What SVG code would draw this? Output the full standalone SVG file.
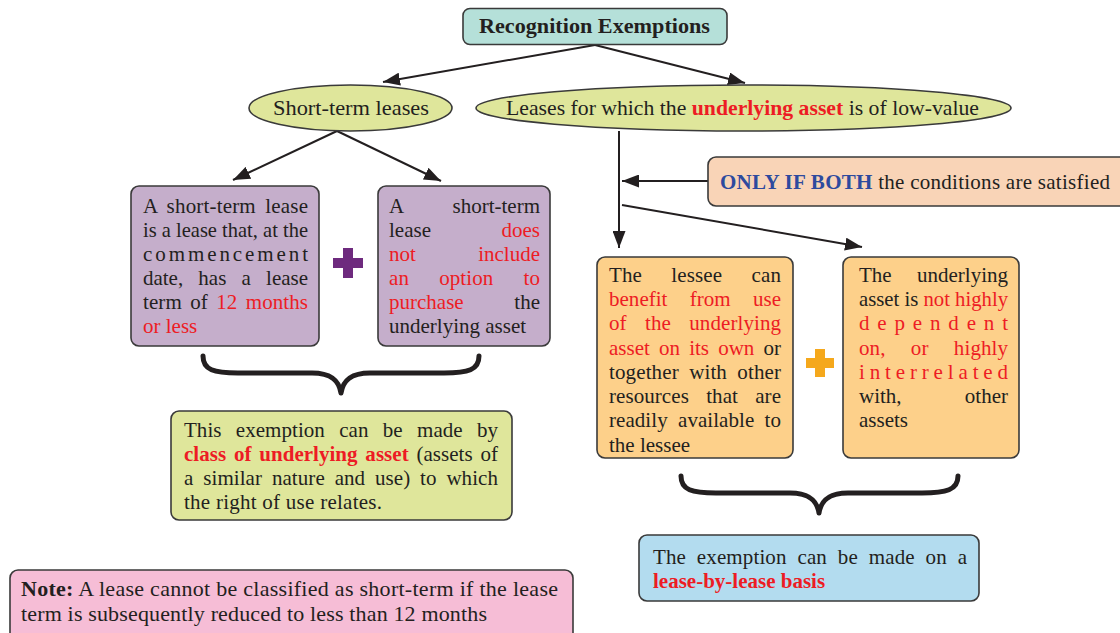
<svg xmlns="http://www.w3.org/2000/svg" width="1120" height="633" viewBox="0 0 1120 633">
<defs>
<style>
.box{stroke:#3a3a3a;stroke-width:1.6}
.t{font-family:"Liberation Serif",serif;font-size:21px;fill:#231f20}
.big{font-size:22px}
.r{fill:#ed1c24}
.bl{fill:#2e4a9e}
.b{font-weight:bold}
.e{text-anchor:end}
.conn{stroke:#231f20;stroke-width:2;fill:none}
.brace{stroke:#231f20;stroke-width:5;fill:none;stroke-linecap:round;stroke-linejoin:round}
</style>
<marker id="ah" markerUnits="userSpaceOnUse" markerWidth="17" markerHeight="13" refX="17" refY="6.5" orient="auto">
<path d="M0,0 L17,6.5 L0,13 Z" fill="#231f20"/>
</marker>
</defs>
<rect width="1120" height="633" fill="#ffffff"/>

<g id="connectors">
<path class="conn" d="M595,45 L383,82" marker-end="url(#ah)"/>
<path class="conn" d="M595,45 L745,83" marker-end="url(#ah)"/>
<path class="conn" d="M337,131 L233,180" marker-end="url(#ah)"/>
<path class="conn" d="M337,131 L441,181" marker-end="url(#ah)"/>
<path class="conn" d="M619,131 L619,248" marker-end="url(#ah)"/>
<path class="conn" d="M708,181 L622,181" marker-end="url(#ah)"/>
<path class="conn" d="M622,205 L862,247" marker-end="url(#ah)"/>
<path class="brace" d="M203,356 C203,370 214,373 238,373 L312,373 C332,373 339,381 341,393 C343,381 350,373 370,373 L444,373 C468,373 479,370 479,356"/>
<path class="brace" d="M681,476 C681,490 692,493 716,493 L790,493 C810,493 817,501 819,513 C821,501 828,493 848,493 L922,493 C946,493 958,490 958,476"/>
</g>

<g id="title">
<rect class="box" x="463" y="8.5" width="264" height="36" rx="7" fill="#b5e0d9"/>
<text class="t big b" x="479" y="33" textLength="231" lengthAdjust="spacingAndGlyphs">Recognition Exemptions</text>
</g>

<g id="short-term">
<ellipse class="box" cx="350.5" cy="108" rx="101.5" ry="23" fill="#dfe69b"/>
<text class="t big" x="273" y="115" textLength="156" lengthAdjust="spacingAndGlyphs">Short-term leases</text>
</g>

<g id="low-value">
<ellipse class="box" cx="743.5" cy="108" rx="267.5" ry="23" fill="#dfe69b"/>
<text class="t big" x="506" y="115" textLength="473" lengthAdjust="spacingAndGlyphs">Leases for which the <tspan class="r b">underlying asset</tspan> is of low-value</text>
</g>

<g id="st-def">
<rect class="box" x="131" y="186" width="188" height="160" rx="8" fill="#c5aecb"/>
<text class="t" x="143" y="213" word-spacing="4" textLength="165" lengthAdjust="spacing">A short-term lease</text>
<text class="t" x="143" y="237" textLength="165" lengthAdjust="spacingAndGlyphs">is a lease that, at the</text>
<text class="t" x="143" y="261" textLength="165" lengthAdjust="spacing">commencement</text>
<text class="t" x="143" y="285" word-spacing="10" textLength="165" lengthAdjust="spacing">date, has a lease</text>
<text class="t" x="143" y="309" word-spacing="3" textLength="165" lengthAdjust="spacing">term of <tspan class="r">12 months</tspan></text>
<text class="t r" x="143" y="333">or less</text>
</g>

<g id="plus-purple">
<path d="M348,248 V278 M333,263 H363" stroke="#6e2a7e" stroke-width="10"/>
</g>

<g id="st-option">
<rect class="box" x="378" y="186" width="172" height="160" rx="8" fill="#c5aecb"/>
<text class="t" x="389" y="213">A</text>
<text class="t e" x="540" y="213">short-term</text>
<text class="t" x="389" y="237">lease</text>
<text class="t e r" x="540" y="237">does</text>
<text class="t r" x="389" y="261">not</text>
<text class="t e r" x="540" y="261">include</text>
<text class="t r" x="389" y="285" word-spacing="25" textLength="151" lengthAdjust="spacing">an option to</text>
<text class="t r" x="389" y="309">purchase</text>
<text class="t e" x="540" y="309">the</text>
<text class="t" x="389" y="333">underlying asset</text>
</g>

<g id="class-note">
<rect class="box" x="171" y="411" width="341" height="109" rx="8" fill="#dfe69b"/>
<text class="t" x="184" y="437" word-spacing="9" textLength="314" lengthAdjust="spacing">This exemption can be made by</text>
<text class="t" x="184" y="461" word-spacing="2.5" textLength="314" lengthAdjust="spacing"><tspan class="r b">class of underlying asset</tspan> (assets of</text>
<text class="t" x="184" y="485" word-spacing="4.5" textLength="314" lengthAdjust="spacing">a similar nature and use) to which</text>
<text class="t" x="184" y="509" textLength="198" lengthAdjust="spacing">the right of use relates.</text>
</g>

<g id="condition-note">
<rect class="box" x="708" y="157" width="420" height="49" rx="8" fill="#f9d4b7"/>
<text class="t" x="720" y="189" textLength="390" lengthAdjust="spacing"><tspan class="bl b">ONLY IF BOTH</tspan> the conditions are satisfied</text>
</g>

<g id="benefit">
<rect class="box" x="597" y="257" width="196" height="201" rx="8" fill="#fdd08a"/>
<text class="t" x="609" y="282" word-spacing="24" textLength="172" lengthAdjust="spacing">The lessee can</text>
<text class="t r" x="609" y="306" word-spacing="17" textLength="172" lengthAdjust="spacing">benefit from use</text>
<text class="t r" x="609" y="330" word-spacing="13" textLength="172" lengthAdjust="spacing">of the underlying</text>
<text class="t" x="609" y="355" word-spacing="4" textLength="172" lengthAdjust="spacing"><tspan class="r">asset on its own</tspan> or</text>
<text class="t" x="609" y="379" word-spacing="5" textLength="172" lengthAdjust="spacing">together with other</text>
<text class="t" x="609" y="403" word-spacing="12" textLength="172" lengthAdjust="spacing">resources that are</text>
<text class="t" x="609" y="427" word-spacing="5" textLength="172" lengthAdjust="spacing">readily available to</text>
<text class="t" x="609" y="452">the lessee</text>
</g>

<g id="plus-orange">
<path d="M820,349 V377 M806,363 H834" stroke="#f5a81c" stroke-width="10"/>
</g>

<g id="dependent">
<rect class="box" x="843" y="257" width="176" height="201" rx="8" fill="#fdd08a"/>
<text class="t" x="859" y="282">The</text>
<text class="t e" x="1008" y="282">underlying</text>
<text class="t" x="859" y="306" textLength="149" lengthAdjust="spacingAndGlyphs">asset is <tspan class="r">not highly</tspan></text>
<text class="t r" x="859" y="330" textLength="149" lengthAdjust="spacing">dependent</text>
<text class="t r" x="859" y="355" word-spacing="20" textLength="149" lengthAdjust="spacing">on, or highly</text>
<text class="t r" x="859" y="379" textLength="149" lengthAdjust="spacing">interrelated</text>
<text class="t" x="859" y="403">with,</text>
<text class="t e" x="1008" y="403">other</text>
<text class="t" x="859" y="427">assets</text>
</g>

<g id="lease-basis">
<rect class="box" x="639" y="535" width="340" height="66" rx="8" fill="#b3dcef"/>
<text class="t" x="653" y="564" word-spacing="5.5" textLength="314" lengthAdjust="spacing">The exemption can be made on a</text>
<text class="t r b" x="653" y="588">lease-by-lease basis</text>
</g>

<g id="note">
<rect class="box" x="10" y="570" width="563" height="72" rx="8" fill="#f6bdd6"/>
<text class="t big" x="21" y="596" textLength="537" lengthAdjust="spacing"><tspan class="b">Note:</tspan> A lease cannot be classified as short-term if the lease</text>
<text class="t big" x="21" y="621" textLength="466" lengthAdjust="spacing">term is subsequently reduced to less than 12 months</text>
</g>
</svg>
